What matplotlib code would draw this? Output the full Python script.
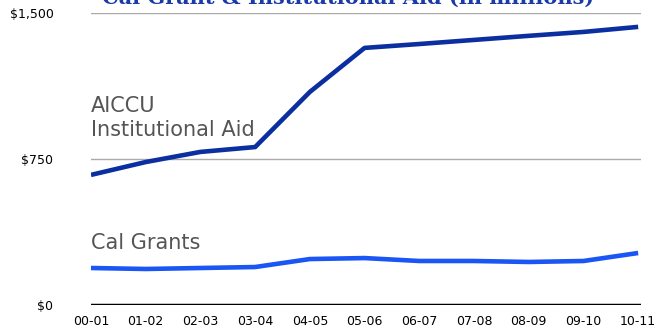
import matplotlib
matplotlib.use("Agg")
import matplotlib.pyplot as plt

# school years
years = ["00-01", "01-02", "02-03", "03-04", "04-05", "05-06",
         "06-07", "07-08", "08-09", "09-10", "10-11"]

# $ millions
aiccu = [668, 734, 786, 811, 1094, 1320, 1340, 1361, 1382, 1402, 1428]
cal_grants = [190, 185, 190, 195, 236, 241, 226, 226, 221, 226, 267]

yticks = [0, 750, 1500]
ylabels = ["$0", "$750", "$1,500"]

fig = plt.figure(figsize=(6.69, 3.32), dpi=100)
ax = fig.add_axes([0.136, 0.0813, 0.822, 0.88])

x = list(range(len(years)))
for v in yticks[1:]:
    ax.axhline(v, color="#aaaaaa", lw=1, zorder=1)
ax.axhline(0, color="black", lw=2.5, zorder=1)

ax.plot(x, aiccu, color="#0b2fa0", lw=3.3, solid_capstyle="butt", zorder=3)
ax.plot(x, cal_grants, color="#1a55f5", lw=3.3, solid_capstyle="butt", zorder=3)

ax.set_xlim(0, 10.05)
ax.set_ylim(0, 1500)
ax.set_xticks(x)
ax.set_xticklabels(years, fontsize=9)
ax.set_yticks(yticks)
ax.set_yticklabels(ylabels, fontsize=9)
ax.tick_params(axis="x", length=0, pad=7)
ax.tick_params(axis="y", length=0, pad=27)
for s in ax.spines.values():
    s.set_visible(False)

ax.text(0, 960, "AICCU\nInstitutional Aid", fontsize=15, color="#555555",
        va="center", ha="left", linespacing=1.3)
ax.text(0, 318, "Cal Grants", fontsize=15, color="#555555",
        va="center", ha="left")

# title sits mostly above the top edge, as in the source image
fig.text(0.52, 1.008, "Cal Grant & Institutional Aid (in millions)",
         family="DejaVu Serif", fontweight="bold", fontsize=15,
         color="#1a3aa8", ha="center", va="center")

fig.savefig("out.png", dpi=100)
